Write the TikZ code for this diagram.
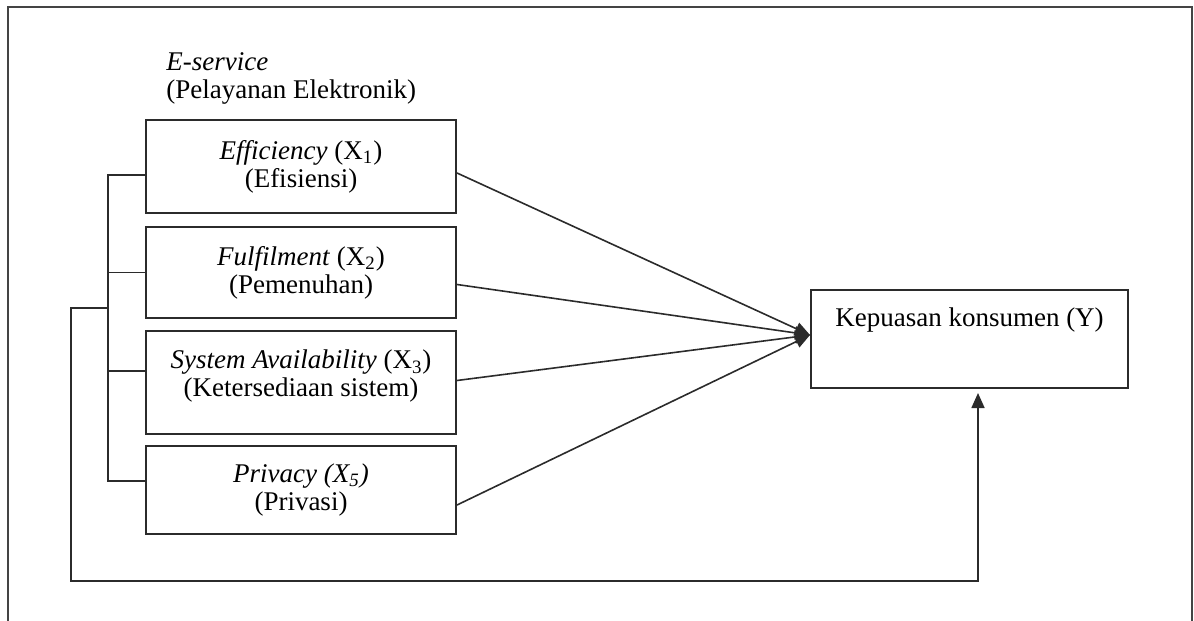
\documentclass[tikz,border=0pt]{standalone}
\usepackage{fontspec}
\setmainfont{Liberation Serif}
\usetikzlibrary{arrows.meta,positioning,calc}
\definecolor{clLine}{HTML}{2B2B2B}
\definecolor{clFrame}{HTML}{444444}
\tikzset{
  box/.style={rectangle, draw=clLine, line width=1pt, align=center,
              minimum width=155pt, inner sep=2pt},
  link/.style={draw=clLine, line width=0.8pt},
  flow/.style={link, -{Triangle[length=7.5pt,width=6.5pt]}},
}

\begin{document}
\begin{tikzpicture}[x=0.5pt, y=-0.5pt, node distance=5.5pt,
    every node/.style={font=\fontsize{13.5}{14}\selectfont}]
  \useasboundingbox (0,0) rectangle (1194,621);
  % outer frame
  \draw[clFrame, line width=1pt] (8,621) -- (8,7) -- (1192,7) -- (1192,621);

  \node[anchor=north west, align=left, inner sep=0pt] (title) at (166,52)
    {\textit{E-service}\\(Pelayanan Elektronik)};

  % dimensions of e-service
  \node[box, minimum height=46.5pt] (eff) at (301,166.5)
    {\textit{Efficiency} (X\textsubscript{1})\\(Efisiensi)};
  \node[box, minimum height=45.5pt, below=6pt of eff] (ful)
    {\textit{Fulfilment} (X\textsubscript{2})\\(Pemenuhan)};
  \node[box, minimum height=51.5pt, below=5.5pt of ful] (sys)
    {\textit{System Availability} (X\textsubscript{3})\\(Ketersediaan sistem)\\[-5pt]\mbox{}};
  \node[box, minimum height=44pt, below=5pt of sys] (pri)
    {\textit{Privacy (X\textsubscript{5})}\\(Privasi)};

  \node[box, minimum width=158.5pt, minimum height=49pt] (sat) at (969.5,339)
    {Kepuasan konsumen (Y)\\[8pt]\mbox{}};

  % paths to satisfaction
  \coordinate (hub) at ([yshift=2pt]sat.west);
  \draw[flow] ([yshift=-3.25pt]eff.east) -- (hub);
  \draw[flow] ([yshift=-6pt]ful.east) -- (hub);
  \draw[flow] ([yshift=1pt]sys.east) -- (hub);
  \draw[flow] ([yshift=-7.5pt]pri.east) -- (hub);

  % bracket joining the four boxes
  \draw[link] ([yshift=-4.25pt]eff.west) -- ++(-18.5pt,0) |- ([yshift=4.5pt]pri.west);
  \draw[link] (ful.west) -- ++(-18.5pt,0);
  \draw[link] ([yshift=5.75pt]sys.west) -- ++(-18.5pt,0);
  \coordinate (tap) at (109,308);
  \draw[flow, shorten >=2pt] (tap) -| (71,581) -| ([xshift=4.25pt]sat.south);
\end{tikzpicture}
\end{document}
